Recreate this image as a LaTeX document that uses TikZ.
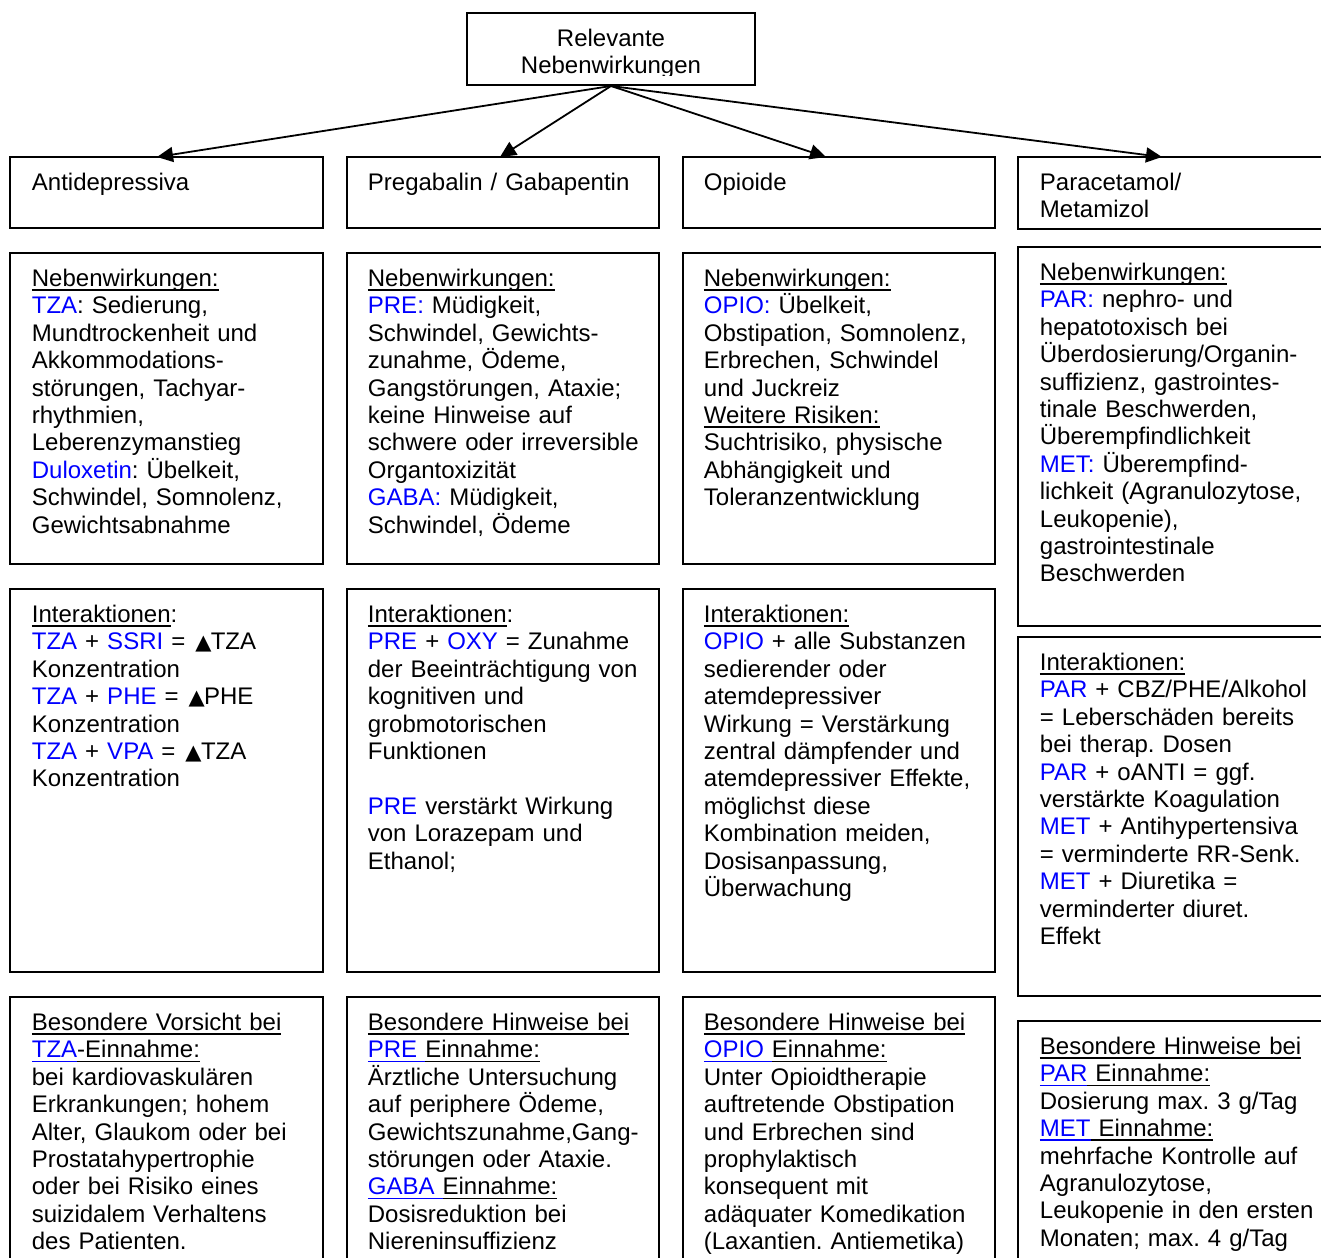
\documentclass[tikz,border=0pt]{standalone}
\usepackage{fontspec}
\setmainfont{Liberation Sans}
\newfontfamily\dvfont{DejaVu Sans}
\usetikzlibrary{arrows.meta,fit}
\definecolor{lnk}{RGB}{0,0,255}
\newcommand{\lk}[1]{\textcolor{lnk}{#1}}
\newcommand{\uln}[1]{\leavevmode\setbox0\hbox{#1}\rlap{\vrule height -1.4pt depth 2.3pt width \wd0}\box0}
\newcommand{\fst}{\rule{0pt}{12pt}}
\newcommand{\up}{{\dvfont\fontsize{10.5}{13.7}\selectfont\kern1pt▲\kern-0.3pt}}
\frenchspacing
\begin{document}
\begin{tikzpicture}[x=0.5pt,y=-0.5pt,
  box/.style={draw, line width=1pt, inner sep=0pt},
  txt/.style={anchor=north west, inner sep=0pt, text width=150pt, align=left, font=\fontsize{12}{13.7}\selectfont\frenchspacing},
  ttxt/.style={anchor=north, inner sep=0pt, text width=140pt, align=center, font=\fontsize{12}{13.7}\selectfont},
  arr/.style={line width=0.9pt, -{Triangle[length=8pt,width=7.5pt]}}]
\useasboundingbox (0,0) rectangle (1321,1257);
% top box
\begin{scope}
\clip (467,13) rectangle (755,75.5);
\node[ttxt] (ttop) at (611,22) {\fst Relevante\\Nebenwirkungen};
\end{scope}
\node[box, fit={(467,13) (755,85)}] (top) {};
% header boxes
\node[box, fit={(10,157) (323,228)}] (h1) {};
\node[box, fit={(347,157) (659,228)}] (h2) {};
\node[box, fit={(683,157) (995,228)}] (h3) {};
\node[box, fit={(1018,157) (1340,229)}] (h4) {};
\node[txt] (th1) at (31.5,166) {\fst Antidepressiva};
\node[txt] (th2) at (367.5,166) {\fst Pregabalin / Gabapentin};
\node[txt] (th3) at (703.5,166) {\fst Opioide};
\node[txt] (th4) at (1039.5,166) {\fst Paracetamol/\\Metamizol};
% arrows
\coordinate (a1) at (157,157);
\coordinate (a2) at (500,157);
\coordinate (a3) at (826,157);
\coordinate (a4) at (1162,157);
\draw[arr] (top.south) -- (a1);
\draw[arr] (top.south) -- (a2);
\draw[arr] (top.south) -- (a3);
\draw[arr] (top.south) -- (a4);
% row 2
\node[box, fit={(10,253) (323,564)}] (n1) {};
\node[box, fit={(347,253) (659,564)}] (n2) {};
\node[box, fit={(683,253) (995,564)}] (n3) {};
\node[box, fit={(1018,247) (1340,626)}] (n4) {};
\node[txt] (tn1) at (31.5,262) {\fst\uln{Nebenwirkungen:}\\
\lk{TZA}: Sedierung,\\
Mundtrockenheit und\\
Akkommodations-\\
störungen, Tachyar-\\
rhythmien,\\
Leberenzymanstieg\\
\lk{Duloxetin}: Übelkeit,\\
Schwindel, Somnolenz,\\
Gewichtsabnahme};
\node[txt] (tn2) at (367.5,262) {\fst\uln{Nebenwirkungen:}\\
\lk{PRE:} Müdigkeit,\\
Schwindel, Gewichts-\\
zunahme, Ödeme,\\
Gangstörungen, Ataxie;\\
keine Hinweise auf\\
schwere oder irreversible\\
Organtoxizität\\
\lk{GABA:} Müdigkeit,\\
Schwindel, Ödeme};
\node[txt] (tn3) at (703.5,262) {\fst\uln{Nebenwirkungen:}\\
\lk{OPIO:} Übelkeit,\\
Obstipation, Somnolenz,\\
Erbrechen, Schwindel\\
und Juckreiz\\
\uln{Weitere Risiken:}\\
Suchtrisiko, physische\\
Abhängigkeit und\\
Toleranzentwicklung};
\node[txt] (tn4) at (1039.5,256) {\fst\uln{Nebenwirkungen:}\\
\lk{PAR:} nephro- und\\
hepatotoxisch bei\\
Überdosierung/Organin-\\
suffizienz, gastrointes-\\
tinale Beschwerden,\\
Überempfindlichkeit\\
\lk{MET:} Überempfind-\\
lichkeit (Agranulozytose,\\
Leukopenie),\\
gastrointestinale\\
Beschwerden};
% row 3
\node[box, fit={(10,589) (323,972)}] (i1) {};
\node[box, fit={(347,589) (659,972)}] (i2) {};
\node[box, fit={(683,589) (995,972)}] (i3) {};
\node[box, fit={(1018,637) (1340,996)}] (i4) {};
\node[txt] (ti1) at (31.5,598) {\fst\uln{Interaktionen}:\\
\lk{TZA} + \lk{SSRI} = \up TZA\\
Konzentration\\
\lk{TZA} + \lk{PHE} = \up PHE\\
Konzentration\\
\lk{TZA} + \lk{VPA} = \up TZA\\
Konzentration};
\node[txt] (ti2) at (367.5,598) {\fst\uln{Interaktionen}:\\
\lk{PRE} + \lk{OXY} = Zunahme\\
der Beeinträchtigung von\\
kognitiven und\\
grobmotorischen\\
Funktionen\\
\mbox{}\\
\lk{PRE} verstärkt Wirkung\\
von Lorazepam und\\
Ethanol;};
\node[txt] (ti3) at (703.5,598) {\fst\uln{Interaktionen:}\\
\lk{OPIO} + alle Substanzen\\
sedierender oder\\
atemdepressiver\\
Wirkung = Verstärkung\\
zentral dämpfender und\\
atemdepressiver Effekte,\\
möglichst diese\\
Kombination meiden,\\
Dosisanpassung,\\
Überwachung};
\node[txt] (ti4) at (1039.5,646) {\fst\uln{Interaktionen:}\\
\lk{PAR} + CBZ/PHE/Alkohol\\
= Leberschäden bereits\\
bei therap. Dosen\\
\lk{PAR} + oANTI = ggf.\\
verstärkte Koagulation\\
\lk{MET} + Antihypertensiva\\
= verminderte RR-Senk.\\
\lk{MET} + Diuretika =\\
verminderter diuret.\\
Effekt};
% row 4
\node[box, fit={(10,997) (323,1290)}] (b1) {};
\node[box, fit={(347,997) (659,1290)}] (b2) {};
\node[box, fit={(683,997) (995,1290)}] (b3) {};
\node[box, fit={(1018,1021) (1340,1290)}] (b4) {};
\node[txt] (tb1) at (31.5,1006) {\fst\uln{Besondere Vorsicht bei}\\
\lk{\uln{TZA}}\uln{-Einnahme:}\\
bei kardiovaskulären\\
Erkrankungen; hohem\\
Alter, Glaukom oder bei\\
Prostatahypertrophie\\
oder bei Risiko eines\\
suizidalem Verhaltens\\
des Patienten.};
\node[txt] (tb2) at (367.5,1006) {\fst\uln{Besondere Hinweise bei}\\
\lk{\uln{PRE }}\uln{Einnahme:}\\
Ärztliche Untersuchung\\
auf periphere Ödeme,\\
Gewichtszunahme,Gang-\\
störungen oder Ataxie.\\
\lk{\uln{GABA }}\uln{Einnahme:}\\
Dosisreduktion bei\\
Niereninsuffizienz};
\node[txt] (tb3) at (703.5,1006) {\fst\uln{Besondere Hinweise bei}\\
\lk{\uln{OPIO }}\uln{Einnahme:}\\
Unter Opioidtherapie\\
auftretende Obstipation\\
und Erbrechen sind\\
prophylaktisch\\
konsequent mit\\
adäquater Komedikation\\
(Laxantien. Antiemetika)};
\node[txt] (tb4) at (1039.5,1030) {\fst\uln{Besondere Hinweise bei}\\
\lk{\uln{PAR}}\uln{ Einnahme:}\\
Dosierung max. 3 g/Tag\\
\lk{\uln{MET}}\uln{ Einnahme:}\\
mehrfache Kontrolle auf\\
Agranulozytose,\\
Leukopenie in den ersten\\
Monaten; max. 4 g/Tag};
\end{tikzpicture}
\end{document}
